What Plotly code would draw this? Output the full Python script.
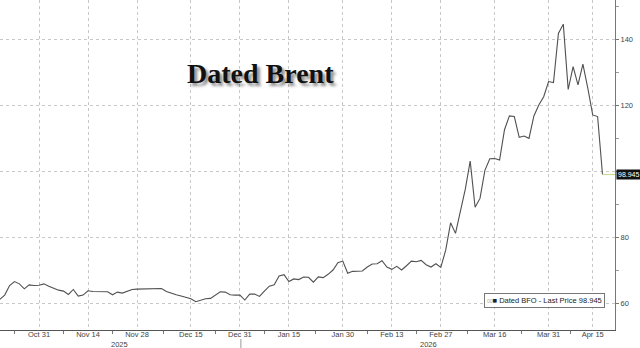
import plotly.graph_objects as go

# trading-day index (0 = Oct 31 2025) and Dated Brent values
day_index = list(range(-8, 116))
prices = [
    61.1, 62.4, 65.3, 66.5, 65.8, 64.3, 65.5, 65.3,
    65.4, 65.8, 65.1, 64.5, 63.9, 63.6, 62.6, 64.1, 62.1, 62.4,
    63.7, 63.5, 63.4, 63.3, 63.4, 62.5, 63.3, 63.0, 63.5, 64.1,
    64.2, 64.2, 64.2, 64.3, 64.4, 64.4, 63.5, 62.9, 62.5, 62.1, 61.8,
    61.3, 60.4, 60.8, 61.3, 61.4, 62.4, 63.4, 63.3, 62.5, 62.4,
    62.4, 60.9, 62.7, 62.7, 62.0, 63.6, 65.1, 65.5, 68.2, 68.6,
    66.5, 67.3, 67.1, 67.9, 67.8, 66.3, 67.9, 67.7, 68.7, 70.0, 72.2,
    72.7, 69.0, 69.6, 69.7, 69.7, 70.9, 71.8, 71.9, 72.8, 70.9,
    70.2, 71.1, 70.0, 71.3, 72.7, 72.5, 72.9, 71.6, 70.9, 71.9,
    70.8, 76.0, 84.3, 81.1, 88.0, 94.5, 103.0, 89.0, 91.7, 100.2, 103.7,
    103.8, 103.3, 112.5, 116.7, 116.5, 110.2, 110.6, 109.9, 116.7, 120.0, 122.5,
    127.1, 126.8, 141.7, 144.5, 124.7, 131.6, 126.1, 132.4, 125.1,
    117.0, 116.5, 98.945,
]

tick_index = [0, 10, 20, 31, 41, 51, 62, 72, 82, 93, 104, 113]
tick_labels = ["Oct 31", "Nov 14", "Nov 28", "Dec 15", "Dec 31", "Jan 15",
               "Jan 30", "Feb 13", "Feb 27", "Mar 16", "Mar 31", "Apr 15"]
minor_index = [-5, 5, 15, 25.5, 36, 46, 56.5, 67, 77, 87.5, 98.5, 108.5]
y_ticks = [60, 80, 100, 120, 140]
y_tick_labels = ["60", "80", "", "120", "140"]
y_minor = [70, 90, 110, 130, 150]
year_labels = ["2025", "2026"]
year_label_index = [16.5, 79.5]
year_break_index = 41.2
last_price = 98.945

fig = go.Figure()
fig.add_trace(go.Scatter(
    x=day_index, y=prices, mode="lines",
    line=dict(color="#505050", width=1.1),
    showlegend=False, hoverinfo="skip",
))

# last price line to the axis
fig.add_shape(type="line", xref="x", yref="y",
              x0=day_index[-1], x1=117.55, y0=last_price, y1=last_price,
              line=dict(color="#cfd98f", width=1.2))

grid = "#c8c8c8"
fig.update_layout(
    width=640, height=348,
    margin=dict(l=0, r=25, t=0, b=18),
    paper_bgcolor="white", plot_bgcolor="white",
    font=dict(family="Liberation Sans, Arial", size=8, color="#333"),
    xaxis=dict(
        range=[-7.96, 117.55],
        tickmode="array", tickvals=tick_index, ticktext=tick_labels,
        showgrid=True, gridcolor=grid, griddash="dot", gridwidth=1,
        ticks="", showline=True, linecolor="#555", linewidth=1,
        zeroline=False, tickfont=dict(size=7.5, color="#444"),
        ticklabelstandoff=-3,
        minor=dict(tickvals=minor_index, ticks="outside", ticklen=3,
                   tickcolor="#777", showgrid=False),
    ),
    yaxis=dict(
        side="right", range=[51.82, 151.82],
        tickmode="array", tickvals=y_ticks, ticktext=y_tick_labels,
        showgrid=True, gridcolor=grid, griddash="dot", gridwidth=1,
        ticks="outside", ticklen=3, tickcolor="#777",
        showline=True, linecolor="#777", linewidth=1,
        zeroline=False, tickfont=dict(size=7.5, color="#444"),
        minor=dict(tickvals=y_minor, ticks="outside", ticklen=3,
                   tickcolor="#999", showgrid=False),
    ),
)

# title
fig.add_annotation(
    text="<b>Dated Brent</b>", xref="paper", yref="paper",
    x=260 / 615, y=1 - 73 / 330, xanchor="center", yanchor="middle",
    showarrow=False,
    font=dict(family="Liberation Serif, Times New Roman, serif", size=28,
              color="#111", shadow="3px 3px 3px rgba(0,0,0,0.45)"),
)

# year labels
for lab, xi in zip(year_labels, year_label_index):
    fig.add_annotation(text=lab, xref="x", yref="paper", x=xi, y=-14 / 330,
                       xanchor="center", yanchor="middle", showarrow=False,
                       font=dict(size=7.5, color="#444"))
fig.add_shape(type="line", xref="x", yref="paper",
              x0=year_break_index, x1=year_break_index, y0=-9 / 330, y1=-18 / 330,
              line=dict(color="#999", width=1))

# legend box
fig.add_annotation(
    text="<span style='color:#aaa;font-size:5px'>00</span>■ Dated BFO - Last Price 98.945",
    xref="paper", yref="paper", x=544.5 / 615, y=1 - 300 / 330,
    xanchor="center", yanchor="middle", showarrow=False,
    font=dict(size=7.5, color="#222"),
    bgcolor="white", bordercolor="#777", borderwidth=1, borderpad=2,
)

# last price tag
fig.add_annotation(
    text="98.945", xref="paper", yref="y", x=1.0, y=last_price,
    xanchor="left", yanchor="middle", xshift=1, showarrow=False,
    font=dict(size=7, color="white"), bgcolor="#111", borderpad=1,
)

fig.write_html("out.html")
